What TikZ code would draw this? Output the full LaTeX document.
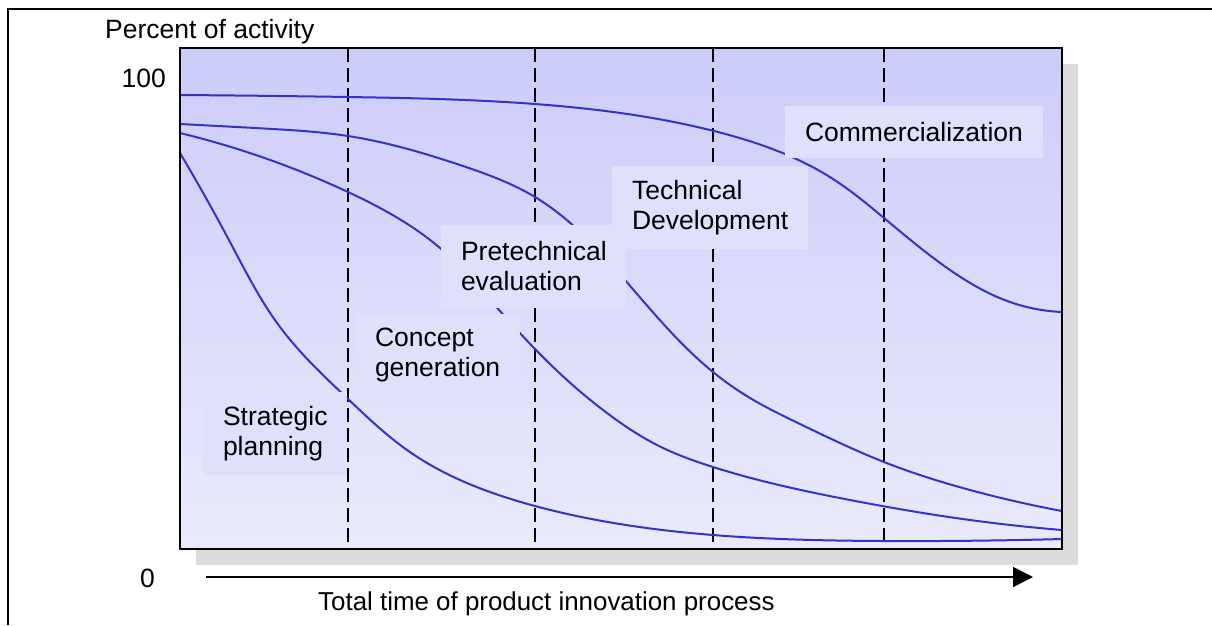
\documentclass[tikz,border=0pt]{standalone}
\usepackage{fontspec}
\setmainfont{Liberation Sans}
\usetikzlibrary{arrows.meta,hobby}
\definecolor{plottop}{RGB}{204,204,250}
\definecolor{plotbottom}{RGB}{234,234,252}
\definecolor{boxfill}{RGB}{224,224,252}
\definecolor{curveblue}{RGB}{51,51,204}
\definecolor{shadowgray}{RGB}{220,220,220}

\begin{document}
\begin{tikzpicture}[
                    x=1pt,
                    y=-1pt,
                    txt/.style={font=\fontsize{26.5}{30}\selectfont, inner sep=0pt},
                    phase/.style={font=\fontsize{26.5}{30}\selectfont, fill=boxfill, inner ysep=0pt, inner xsep=20pt, align=left, minimum height=83pt},
                    curve/.style={curveblue, line width=2pt},
                    divider/.style={dash pattern=on 14pt off 6pt, line width=2pt},
                    timearrow/.style={-{Triangle[length=20pt,width=20pt]}, line width=1.5pt}
                ]
                \useasboundingbox (0,0) rectangle (1212,625);
                \draw[line width=2pt] (8,625) -- (8,9) -- (1212,9);

                \fill[shadowgray] (196,64) rectangle (1078,565);
                \shade[top color=plottop, bottom color=plotbottom] (180,48) rectangle (1062,549);

                \foreach \x in {348,535,713,884}
                    \draw[divider] (\x,48) -- (\x,549);

                \draw[curve] (180,95) to[curve through={(348,97) .. (535,104) .. (714,131) .. (833,179) .. (884,218) .. (950,270) .. (1010,302)}] (1062,312);
                \draw[curve] (180,124) to[curve through={(264,128.5) .. (348,136) .. (460,165) .. (535,197) .. (625,280) .. (713,372) .. (750,398) .. (800,424) .. (884,462) .. (970,490)}] (1062,511);
                \draw[curve] (180,133) to[curve through={(348,192) .. (440,248) .. (500,311) .. (567,380) .. (607,413) .. (657,445) .. (713,467) .. (850,500) .. (970,520)}] (1062,530);
                \draw[curve] (180,153) to[curve through={(230,242) .. (280,327) .. (348,399) .. (407,450) .. (535,506) .. (713,535) .. (884,541)}] (1062,539);

                \node[phase, text width=104pt] (SP) at (275,433.5) {Strategic\\planning};
                \node[phase, text width=125pt] (CG) at (437.5,355) {Concept\\generation};
                \node[phase, text width=145pt] (PE) at (533.5,266.5) {Pretechnical\\evaluation};
                \node[phase, text width=156pt] (TD) at (710,207.5) {Technical\\Development};
                \node[phase, text width=218pt, minimum height=52pt] (CO) at (914,132) {Commercialization};

                \draw[line width=1.5pt] (180,48) rectangle (1062,549);

                \node[txt, anchor=base west] (yaxis) at (105,38) {Percent of activity};
                \node[txt, anchor=base east] (ymax) at (166,87) {100};
                \node[txt, anchor=base east] (ymin) at (155,587) {0};
                \node[txt, anchor=base west, font=\fontsize{25.9}{30}\selectfont] (xaxis) at (318,610) {Total time of product innovation process};

                \coordinate (T0) at (206,577);
                \coordinate (T1) at (1033,577);
                \draw[timearrow] (T0) -- (T1);
            \end{tikzpicture}
\end{document}
